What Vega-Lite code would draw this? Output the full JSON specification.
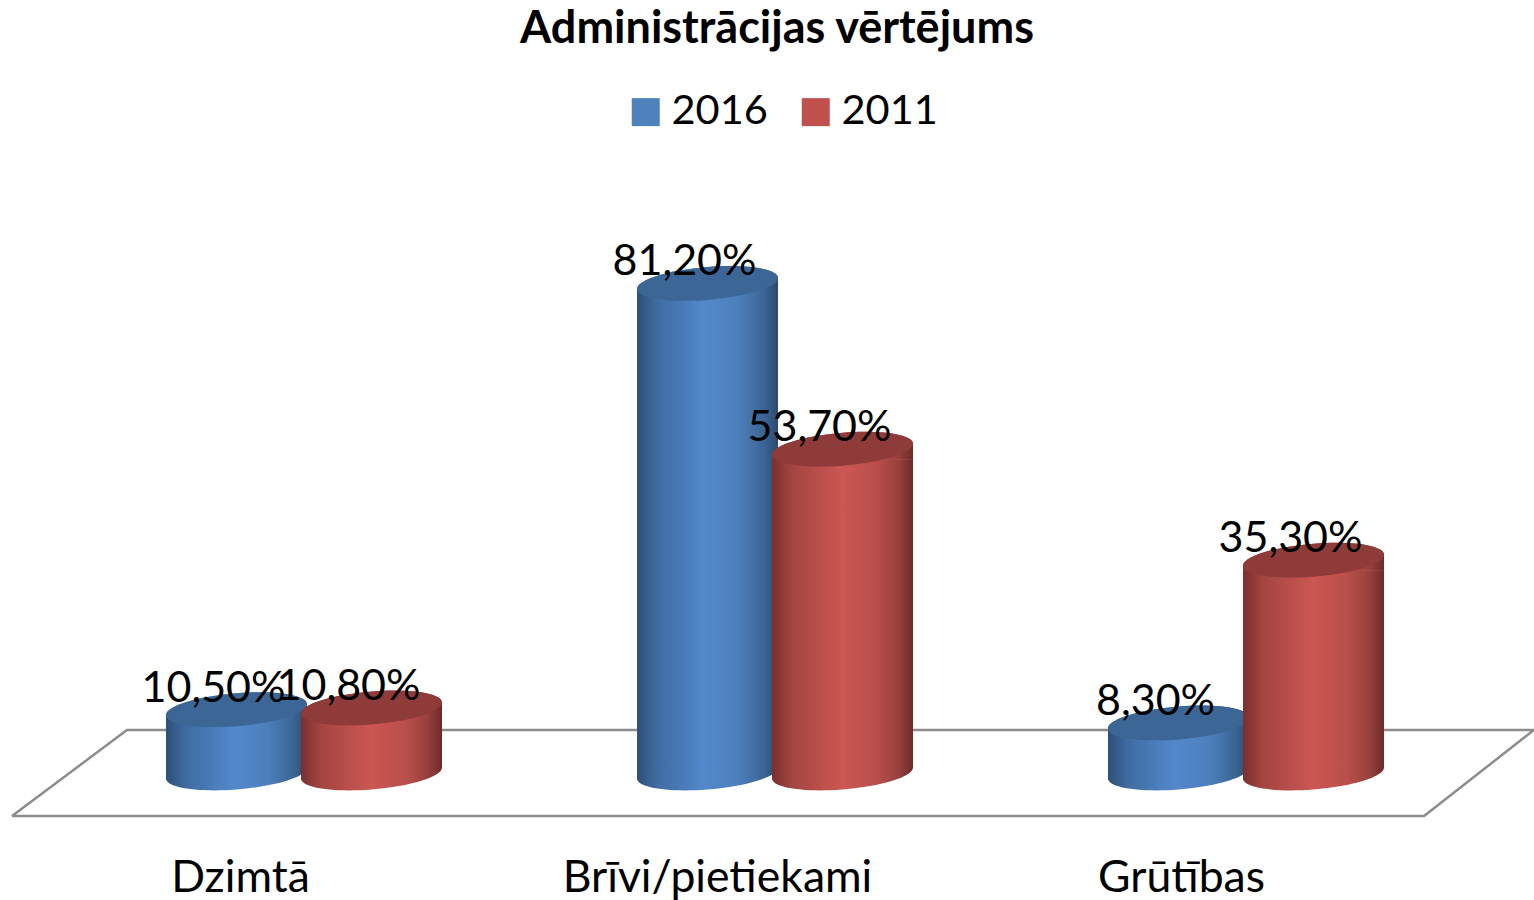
{
"$schema":"https://vega.github.io/schema/vega-lite/v6.json",
"autosize":"none","padding":{"left":0,"top":0,"right":0,"bottom":70},
"width":1534,"height":830,"background":"white",
"title":{"text":"Administrācijas vērtējums","font":"Lato","fontSize":45,"fontWeight":"bold","color":"#000000","anchor":"middle","dx":10,"offset":-74,"baseline":"middle"},
"config":{"view":{"stroke":null}},
"datasets":{
"bars":[
{"cat":"Dzimtā","year":"2016","value":10.5,"label":"10,50%"},
{"cat":"Dzimtā","year":"2011","value":10.8,"label":"10,80%"},
{"cat":"Brīvi/pietiekami","year":"2016","value":81.2,"label":"81,20%"},
{"cat":"Brīvi/pietiekami","year":"2011","value":53.7,"label":"53,70%"},
{"cat":"Grūtības","year":"2016","value":8.3,"label":"8,30%"},
{"cat":"Grūtības","year":"2011","value":35.3,"label":"35,30%"}],
"floor":[
{"across":-0.621,"depth":-7.13,"order":0},
{"across":-0.377,"depth":7.13,"order":1},
{"across":2.61,"depth":7.13,"order":2},
{"across":2.377,"depth":-7.13,"order":3},
{"across":-0.621,"depth":-7.13,"order":4}]},
"resolve":{"scale":{"x":"independent"}},
"layer":[
{"data":{"name":"floor"},"mark":{"type":"line","color":"#8c8c8c","strokeWidth":2.5,"strokeJoin":"miter"},
"encoding":{
"x":{"field":"across","type":"quantitative","axis":null,"scale":{"domain":[-0.6465,2.6104],"nice":false,"zero":false}},
"y":{"field":"depth","type":"quantitative","axis":null,"scale":{"domain":[-9.45,128.2],"nice":false,"zero":false}},
"order":{"field":"order"}}},
{"data":{"name":"bars"},
"encoding":{
"x":{"field":"cat","type":"nominal","sort":["Dzimtā","Brīvi/pietiekami","Grūtības"],
"scale":{"domain":["Dzimtā","Brīvi/pietiekami","Grūtības"],"range":[69,1482],"paddingInner":0,"paddingOuter":0},
"axis":{"title":null,"domain":false,"ticks":false,"labelAngle":0,"labelFont":"Lato","labelFontSize":44.5,"labelColor":"#000000","labelPadding":26,"labelBaseline":"top","labelLimit":0,"labelOverlap":false,
"labelOffset":{"condition":[{"test":"datum.value==='Dzimtā'","value":-64},{"test":"datum.value==='Brīvi/pietiekami'","value":-58}],"value":-65}}},
"xOffset":{"field":"year","type":"nominal","scale":{"domain":["2016","2011"],"range":[100,370],"paddingInner":0,"paddingOuter":0}},
"y":{"field":"value","type":"quantitative","axis":null,"scale":{"domain":[-9.45,128.2],"nice":false,"zero":false}}},
"layer":[
{"mark":{"type":"bar","width":100,"yOffset":10,"y2Offset":-10},
"encoding":{"y2":{"datum":0},"color":{"field":"year","type":"nominal","scale":{"domain":["2016","2011"],"range":["#4F81BD","#C0504D"]},
"legend":{"title":null,"orient":"none","legendX":625,"legendY":91,"direction":"horizontal","symbolType":"square","symbolSize":784,"symbolStrokeWidth":0,"labelFont":"Lato","labelFontSize":41.5,"labelColor":"#000000","labelLimit":0,"columnPadding":27,"symbolOffset":0,"labelOffset":5}}}},
{"transform":[{"filter":"datum.year==='2016'"}],
"layer":[
{"mark":{"type":"bar","width":141,"yOffset":10,"y2Offset":-10,"fill":{"gradient":"linear","x1":0,"x2":1,"y1":0,"y2":0,"stops":[{"offset":0,"color":"#2E4F78"},{"offset":0.14,"color":"#3F6CA1"},{"offset":0.48,"color":"#5388CC"},{"offset":0.72,"color":"#4D7FBB"},{"offset":0.9,"color":"#3C6596"},{"offset":1,"color":"#2C4A70"}]}},"encoding":{"y2":{"datum":0}}},
{"mark":{"type":"point","filled":true,"opacity":1,"size":19881,"shape":"M-1,-0.15 L1,-0.15 L1,-0.078 C1,0.0512 0.5523,0.1909 0,0.234 C-0.5523,0.2771 -1,0.2072 -1,0.078 Z","fill":{"gradient":"linear","x1":0,"x2":1,"y1":0,"y2":0,"stops":[{"offset":0,"color":"#2E4F78"},{"offset":0.14,"color":"#3F6CA1"},{"offset":0.48,"color":"#5388CC"},{"offset":0.72,"color":"#4D7FBB"},{"offset":0.9,"color":"#3C6596"},{"offset":1,"color":"#2C4A70"}]}},"encoding":{"y":{"datum":0}}},
{"mark":{"type":"point","filled":true,"opacity":1,"size":19881,"shape":"M-1,0.15 L-1,0.078 C-1,-0.0512 -0.5523,-0.1909 0,-0.234 C0.5523,-0.2771 1,-0.2072 1,-0.078 L1,0.15 Z","fill":{"gradient":"linear","x1":0,"x2":1,"y1":0,"y2":0,"stops":[{"offset":0,"color":"#2E4F78"},{"offset":0.14,"color":"#3F6CA1"},{"offset":0.48,"color":"#5388CC"},{"offset":0.72,"color":"#4D7FBB"},{"offset":0.9,"color":"#3C6596"},{"offset":1,"color":"#2C4A70"}]}}},
{"mark":{"type":"point","filled":true,"opacity":1,"size":19881,"fill":"#3C6695","shape":"M-1,0.078 C-1,-0.0512 -0.5523,-0.1909 0,-0.234 C0.5523,-0.2771 1,-0.2072 1,-0.078 C1,0.0512 0.5523,0.1909 0,0.234 C-0.5523,0.2771 -1,0.2072 -1,0.078 Z"}}
]},
{"transform":[{"filter":"datum.year==='2011'"}],
"layer":[
{"mark":{"type":"bar","width":141,"yOffset":10,"y2Offset":-10,"fill":{"gradient":"linear","x1":0,"x2":1,"y1":0,"y2":0,"stops":[{"offset":0,"color":"#7A302E"},{"offset":0.14,"color":"#A34542"},{"offset":0.5,"color":"#CC5753"},{"offset":0.75,"color":"#B84E4B"},{"offset":0.9,"color":"#96403D"},{"offset":1,"color":"#6E2B29"}]}},"encoding":{"y2":{"datum":0}}},
{"mark":{"type":"point","filled":true,"opacity":1,"size":19881,"shape":"M-1,-0.15 L1,-0.15 L1,-0.078 C1,0.0512 0.5523,0.1909 0,0.234 C-0.5523,0.2771 -1,0.2072 -1,0.078 Z","fill":{"gradient":"linear","x1":0,"x2":1,"y1":0,"y2":0,"stops":[{"offset":0,"color":"#7A302E"},{"offset":0.14,"color":"#A34542"},{"offset":0.5,"color":"#CC5753"},{"offset":0.75,"color":"#B84E4B"},{"offset":0.9,"color":"#96403D"},{"offset":1,"color":"#6E2B29"}]}},"encoding":{"y":{"datum":0}}},
{"mark":{"type":"point","filled":true,"opacity":1,"size":19881,"shape":"M-1,0.15 L-1,0.078 C-1,-0.0512 -0.5523,-0.1909 0,-0.234 C0.5523,-0.2771 1,-0.2072 1,-0.078 L1,0.15 Z","fill":{"gradient":"linear","x1":0,"x2":1,"y1":0,"y2":0,"stops":[{"offset":0,"color":"#7A302E"},{"offset":0.14,"color":"#A34542"},{"offset":0.5,"color":"#CC5753"},{"offset":0.75,"color":"#B84E4B"},{"offset":0.9,"color":"#96403D"},{"offset":1,"color":"#6E2B29"}]}}},
{"mark":{"type":"point","filled":true,"opacity":1,"size":19881,"fill":"#8E3B39","shape":"M-1,0.078 C-1,-0.0512 -0.5523,-0.1909 0,-0.234 C0.5523,-0.2771 1,-0.2072 1,-0.078 C1,0.0512 0.5523,0.1909 0,0.234 C-0.5523,0.2771 -1,0.2072 -1,0.078 Z"}}
]},
{"mark":{"type":"text","font":"Lato","fontSize":43,"color":"#000000","dx":-23,"dy":-21,"baseline":"middle","align":"center"},"encoding":{"text":{"field":"label"}}}
]}
]}
